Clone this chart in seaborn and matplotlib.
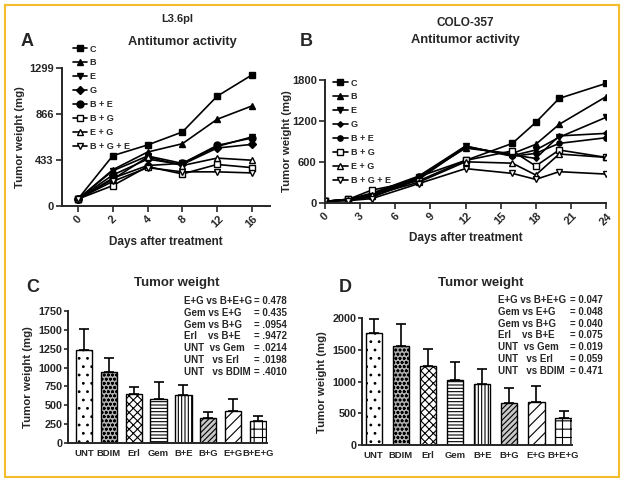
import numpy as np
import pandas as pd
import matplotlib
matplotlib.use("Agg")
import matplotlib.pyplot as plt
from matplotlib.patches import Rectangle
import seaborn as sns

sns.set_style("ticks")
plt.rcParams['font.family'] = ['Liberation Sans', 'DejaVu Sans']
plt.rcParams['font.weight'] = 'bold'
plt.rcParams['axes.labelweight'] = 'bold'
plt.rcParams['hatch.linewidth'] = 0.8

# panel A - L3.6pl
a_days = ["0", "2", "4", "8", "12", "16"]
a_c = [63, 473, 574, 697, 1035, 1236]
a_b = [63, 340, 507, 586, 817, 943]
a_e = [63, 330, 470, 400, 560, 650]
a_g = [63, 290, 440, 390, 545, 580]
a_be = [63, 260, 380, 400, 570, 640]
a_bg = [63, 190, 370, 300, 390, 360]
a_eg = [63, 250, 460, 380, 450, 430]
a_bge = [63, 230, 360, 320, 320, 310]

# panel B - COLO-357
b_days = [0, 2, 4, 8, 12, 16, 18, 20, 24]
b_c = [20, 50, 120, 381, 620, 870, 1178, 1530, 1750]
b_b = [20, 45, 100, 370, 800, 720, 856, 1149, 1555]
b_e = [20, 45, 90, 360, 830, 690, 773, 960, 1252]
b_g = [20, 40, 80, 340, 820, 700, 650, 980, 1017]
b_be = [20, 50, 140, 390, 830, 680, 724, 870, 953]
b_bg = [20, 50, 186, 320, 620, 760, 538, 773, 665]
b_eg = [20, 40, 110, 300, 600, 580, 406, 714, 665]
b_bge = [20, 30, 60, 280, 500, 430, 342, 455, 420]

series_names = ["C", "B", "E", "G", "B + E", "B + G", "E + G", "B + G + E"]

# panels C / D - tumor weight bars
groups = ["UNT", "BDIM", "Erl", "Gem", "B+E", "B+G", "E+G", "B+E+G"]
c_mean = [1231, 941, 651, 585, 642, 339, 422, 295]
c_err = [273, 189, 96, 220, 128, 79, 163, 66]
d_mean = [1763, 1563, 1247, 1026, 963, 668, 674, 432]
d_err = [232, 342, 263, 290, 237, 237, 258, 100]

c_left = ["E+G vs B+E+G", "Gem vs E+G", "Gem vs B+G", "Erl    vs B+E",
          "UNT  vs Gem", "UNT   vs Erl", "UNT   vs BDIM"]
c_right = ["= 0.478", "= 0.435", "= .0954", "= .9472", "= .0214", "= .0198", "= .4010"]
d_left = ["E+G vs B+E+G", "Gem vs E+G", "Gem vs B+G", "Erl    vs B+E",
          "UNT  vs Gem", "UNT   vs Erl", "UNT   vs BDIM"]
d_right = ["= 0.047", "= 0.048", "= 0.040", "= 0.075", "= 0.019", "= 0.059", "= 0.471"]

markers = [("s", "k"), ("^", "k"), ("v", "k"), ("D", "k"), ("o", "k"),
           ("s", "w"), ("^", "w"), ("v", "w")]
hatches = ["..", "oooo", "xxxx", "-----", "|||||", "//////", "///", "++"]
faces = ["white", "#b0b0b0", "white", "white", "white", "#c8c8c8", "white", "white"]

fig = plt.figure(figsize=(6.24, 4.82), dpi=100)


def px(l, r, t, b):
    return [l / 624, 1 - b / 482, (r - l) / 624, (b - t) / 482]


def style_ax(ax, size=8):
    sns.despine(ax=ax)
    for s in ["left", "bottom"]:
        ax.spines[s].set_linewidth(1.4)
    ax.tick_params(width=1.2, length=4, labelsize=size, pad=2)
    for lab in ax.get_xticklabels() + ax.get_yticklabels():
        lab.set_fontweight("bold")


def line_panel(ax, x, data, msize):
    for name, y, (m, fc) in zip(series_names, data, markers):
        ms = msize * 0.75 if m == "D" else msize
        sns.lineplot(x=x, y=y, ax=ax, color="k", marker=m, markersize=ms,
                     markerfacecolor=fc, markeredgecolor="k", markeredgewidth=1,
                     linewidth=1.2, label=name, legend=False)


# ---- A
axA = fig.add_axes(px(62, 270, 68.3, 205.7))
line_panel(axA, np.arange(len(a_days)),
           [a_c, a_b, a_e, a_g, a_be, a_bg, a_eg, a_bge], 5)
axA.set_xlim(-0.46, 5.52)
axA.set_ylim(0, 1299)
axA.set_yticks([0, 433, 866, 1299])
axA.set_xticks(np.arange(len(a_days)))
axA.set_xticklabels(a_days, rotation=45)
axA.set_xlabel("Days after treatment", fontsize=8.5)
axA.set_ylabel("Tumor weight (mg)", fontsize=8.2)
axA.yaxis.set_label_coords(-0.178, 0.5)
axA.xaxis.set_label_coords(0.5, -0.22)
style_ax(axA)
axA.legend(loc="upper left", bbox_to_anchor=(68 / 624, 1 - 40 / 482),
           bbox_transform=fig.transFigure, frameon=False, fontsize=6.5,
           handlelength=1.6, handletextpad=0.3, labelspacing=0.55, borderpad=0)

# ---- B
axB = fig.add_axes(px(325, 606, 80, 202.7))
line_panel(axB, b_days, [b_c, b_b, b_e, b_g, b_be, b_bg, b_eg, b_bge], 3.8)
axB.set_xlim(0, 24)
axB.set_ylim(0, 1800)
axB.set_yticks([0, 600, 1200, 1800])
axB.set_xticks(range(0, 25, 3))
axB.tick_params(axis="x", labelrotation=45)
axB.set_xlabel("Days after treatment", fontsize=8.5)
axB.set_ylabel("Tumor weight (mg)", fontsize=8.2)
axB.yaxis.set_label_coords(-0.117, 0.5)
axB.xaxis.set_label_coords(0.5, -0.239)
style_ax(axB)
axB.legend(loc="upper left", bbox_to_anchor=(328 / 624, 1 - 74 / 482),
           bbox_transform=fig.transFigure, frameon=False, fontsize=6.5,
           handlelength=1.7, handletextpad=0.3, labelspacing=0.55, borderpad=0)


def bar_panel(ax, mean, err, width, lab_x):
    df = pd.DataFrame({"group": groups, "weight": mean})
    sns.barplot(data=df, x="group", y="weight", ax=ax, color="white",
                edgecolor="black", linewidth=1, width=width, errorbar=None)
    for p, h, fc in zip(ax.patches, hatches, faces):
        p.set_hatch(h)
        p.set_facecolor(fc)
    ax.errorbar(np.arange(len(groups)), mean, yerr=[np.zeros(len(err)), err],
                fmt="none", ecolor="k", elinewidth=1.2, capsize=3.5, capthick=1.2)
    ax.set_xlabel("")
    ax.set_ylabel("Tumor weight (mg)", fontsize=8.2)
    ax.yaxis.set_label_coords(lab_x, 0.5)
    style_ax(ax, 7.8)
    ax.tick_params(axis="y", length=3, pad=1)
    ax.tick_params(axis="x", length=0, pad=4, labelsize=6.8)


# ---- C
axC = fig.add_axes(px(68, 267, 310.7, 443.3))
bar_panel(axC, c_mean, c_err, 0.65, -0.176)
axC.set_xlim(-0.64, 7.36)
axC.set_ylim(0, 1750)
axC.set_yticks(range(0, 1751, 250))

# ---- D
axD = fig.add_axes(px(362, 572, 318.3, 445))
bar_panel(axD, d_mean, d_err, 0.6, -0.167)
axD.set_xlim(-0.43, 7.31)
axD.set_ylim(0, 2000)
axD.set_yticks(range(0, 2001, 500))

# annotation blocks
for lefts, rights, x0, x1, y0 in [(c_left, c_right, 184, 287, 301),
                                  (d_left, d_right, 498, 603, 300)]:
    for i, (l, r) in enumerate(zip(lefts, rights)):
        yy = 1 - (y0 + i * 11.8) / 482
        fig.text(x0 / 624, yy, l, fontsize=7, weight="bold", va="center")
        fig.text(x1 / 624, yy, r, fontsize=7, weight="bold", va="center", ha="right")

# headings
fig.text(177 / 624, 1 - 19.5 / 482, "L3.6pl", fontsize=8, weight="bold", ha="center", va="center")
fig.text(465 / 624, 1 - 23 / 482, "COLO-357", fontsize=8.5, weight="bold", ha="center", va="center")
fig.text(182 / 624, 1 - 42 / 482, "Antitumor activity", fontsize=9.3, weight="bold", ha="center", va="center")
fig.text(465 / 624, 1 - 40 / 482, "Antitumor activity", fontsize=9.3, weight="bold", ha="center", va="center")
fig.text(177 / 624, 1 - 283 / 482, "Tumor weight", fontsize=9.5, weight="bold", ha="center", va="center")
fig.text(481 / 624, 1 - 283 / 482, "Tumor weight", fontsize=9.5, weight="bold", ha="center", va="center")
for lbl, x, y in [("A", 27, 42), ("B", 306, 42), ("C", 33, 287), ("D", 345, 287)]:
    fig.text(x / 624, 1 - y / 482, lbl, fontsize=13, weight="bold", ha="center", va="center")

# yellow frame
fig.patches.append(Rectangle((4.7 / 624, 5 / 482), 614 / 624, 472 / 482,
                             transform=fig.transFigure, fill=False,
                             edgecolor="#f5bd2a", linewidth=1.5))

fig.savefig("out.png", dpi=100)
